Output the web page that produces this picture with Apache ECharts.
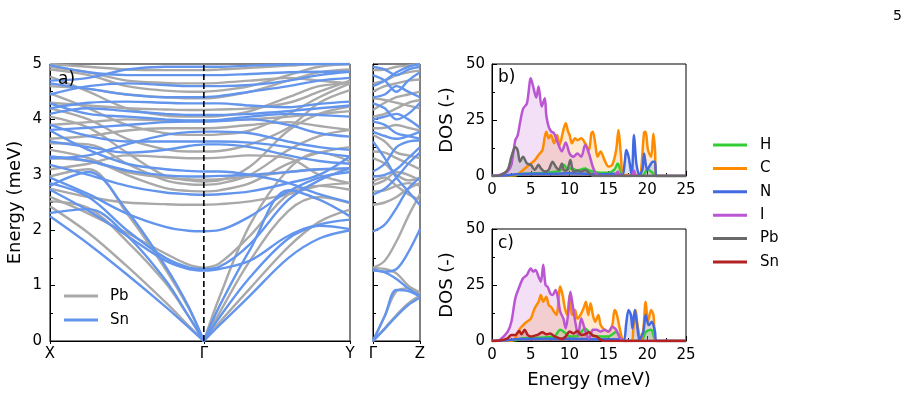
<!DOCTYPE html>
<html><head><meta charset="utf-8">
<script src="https://cdn.jsdelivr.net/npm/echarts@6/dist/echarts.min.js"></script>
<style>html,body{margin:0;padding:0;background:#fff}#c{width:910px;height:398px}</style>
</head><body><div id="c"></div>
<script>
// ---------- Band structure data ----------
const kPath = [0, 0.25, 0.5, 0.75, 0.9, 1.0, 1.1, 1.3, 1.55, 1.75, 1.95]; // X ... Γ(1.0) ... Y
const kPathLabels = [[0, 'X'], [1, 'Γ'], [1.95, 'Y']];
const kGZ = [0, 0.25, 0.5, 0.75, 1.0];
const kGZLabels = [[0, 'Γ'], [1, 'Z']];
const gammaK = 1.0;

const bandsPb = [
  [2.43, 1.95, 1.35, 0.7, 0.28, 0, 0.33, 0.95, 1.7, 2.15, 2.37],
  [2.52, 2.4, 1.8, 1.05, 0.45, 0, 0.5, 1.45, 2.35, 2.6, 2.49],
  [2.97, 3.1, 2.3, 1.3, 0.6, 0, 0.78, 2.1, 3.1, 3.4, 3.24],
  [2.6, 2.3, 1.95, 1.58, 1.38, 1.32, 1.4, 1.9, 2.65, 2.8, 2.73],
  [2.75, 2.6, 2.5, 2.47, 2.46, 2.46, 2.47, 2.52, 2.65, 2.8, 2.85],
  [3.45, 3.3, 3.0, 2.76, 2.71, 2.70, 2.72, 2.85, 3.2, 3.4, 3.5],
  [3.57, 3.55, 3.2, 2.9, 2.83, 2.82, 2.84, 3.0, 3.45, 3.7, 3.81],
  [4.05, 3.85, 3.4, 2.98, 2.9, 2.88, 2.9, 3.15, 3.8, 4.1, 4.23],
  [3.1, 3.2, 3.35, 3.32, 3.3, 3.30, 3.31, 3.35, 3.3, 3.0, 2.85],
  [4.2, 4.0, 3.65, 3.46, 3.42, 3.42, 3.43, 3.55, 3.85, 4.3, 4.53],
  [4.47, 4.2, 3.9, 3.75, 3.72, 3.72, 3.73, 3.8, 4.1, 4.4, 4.65],
  [3.65, 3.7, 3.8, 3.84, 3.84, 3.84, 3.85, 3.9, 3.95, 3.88, 3.81],
  [4.77, 4.5, 4.2, 4.07, 4.05, 4.05, 4.06, 4.15, 4.4, 4.6, 4.65],
  [4.3, 4.25, 4.2, 4.18, 4.17, 4.17, 4.18, 4.2, 4.3, 4.5, 4.7],
  [4.6, 4.55, 4.45, 4.4, 4.38, 4.38, 4.4, 4.5, 4.7, 4.85, 4.9],
  [4.9, 4.8, 4.6, 4.52, 4.5, 4.5, 4.52, 4.6, 4.8, 4.95, 5.0],
  [4.95, 4.85, 4.7, 4.66, 4.65, 4.65, 4.66, 4.7, 4.75, 4.7, 4.65],
  [5.0, 4.95, 4.9, 4.89, 4.89, 4.89, 4.9, 4.93, 4.97, 5.0, 5.0],
  [3.3, 3.25, 3.05, 2.95, 2.92, 2.91, 2.92, 2.97, 3.05, 3.1, 3.1],
  [3.9, 3.95, 4.0, 3.98, 3.97, 3.97, 3.98, 4.0, 4.05, 4.1, 4.15]
];
const bandsSn = [
  [2.25, 1.75, 1.2, 0.62, 0.25, 0, 0.28, 0.82, 1.5, 1.85, 2.0],
  [2.31, 2.38, 1.9, 1.1, 0.45, 0, 0.42, 1.15, 1.85, 2.1, 2.19],
  [2.8, 3.05, 2.35, 1.35, 0.62, 0, 0.62, 1.65, 2.72, 2.55, 2.25],
  [2.73, 2.35, 1.9, 1.45, 1.3, 1.27, 1.3, 1.45, 1.9, 2.08, 2.02],
  [2.85, 2.6, 2.0, 1.5, 1.33, 1.30, 1.34, 1.75, 2.55, 2.9, 3.12],
  [2.95, 2.65, 2.3, 2.06, 1.99, 1.98, 2.0, 2.25, 2.7, 2.95, 3.05],
  [3.18, 3.0, 2.8, 2.68, 2.65, 2.64, 2.65, 2.7, 2.85, 3.0, 3.33],
  [3.33, 3.25, 3.08, 2.99, 2.97, 2.97, 2.98, 3.0, 3.05, 3.1, 3.12],
  [3.8, 3.45, 3.2, 3.1, 3.07, 3.06, 3.06, 3.0, 2.85, 2.65, 2.5],
  [3.9, 3.7, 3.6, 3.6, 3.6, 3.6, 3.6, 3.58, 3.5, 3.4, 3.33],
  [3.3, 3.35, 3.55, 3.72, 3.77, 3.78, 3.78, 3.75, 3.6, 3.5, 3.45],
  [3.81, 3.85, 3.9, 3.95, 3.96, 3.96, 3.97, 4.0, 3.9, 3.75, 3.69],
  [4.29, 4.1, 4.05, 4.0, 3.98, 3.98, 3.99, 4.05, 4.1, 4.08, 4.05],
  [4.2, 4.3, 4.32, 4.3, 4.29, 4.29, 4.29, 4.25, 4.22, 4.28, 4.32],
  [4.65, 4.55, 4.45, 4.4, 4.4, 4.4, 4.42, 4.5, 4.6, 4.7, 4.75],
  [4.98, 4.85, 4.8, 4.8, 4.8, 4.8, 4.8, 4.82, 4.85, 4.86, 4.86],
  [4.7, 4.75, 4.9, 4.95, 4.95, 4.95, 4.95, 4.97, 4.99, 5.0, 5.0],
  [3.6, 3.5, 3.4, 3.45, 3.52, 3.55, 3.55, 3.5, 3.35, 3.25, 3.2],
  [4.45, 4.6, 4.65, 4.62, 4.6, 4.6, 4.6, 4.62, 4.7, 4.8, 4.86],
  [4.1, 4.2, 4.15, 4.1, 4.08, 4.08, 4.08, 4.1, 4.15, 4.2, 4.25]
];
const bandsGZPb = [
  [0, 0.23, 0.47, 0.68, 0.82],
  [0, 0.45, 0.9, 0.95, 0.85],
  [1.32, 1.3, 1.22, 1.0, 0.88],
  [1.32, 1.45, 1.8, 2.25, 2.65],
  [2.46, 2.5, 2.6, 2.75, 2.85],
  [2.7, 2.72, 2.8, 2.85, 2.8],
  [2.82, 2.9, 3.05, 3.0, 2.9],
  [2.88, 2.95, 2.8, 2.65, 2.55],
  [3.3, 3.2, 3.0, 2.9, 2.95],
  [3.42, 3.4, 3.3, 3.2, 3.1],
  [3.72, 3.6, 3.4, 3.35, 3.3],
  [3.84, 3.85, 3.9, 3.85, 3.8],
  [4.05, 4.1, 4.2, 4.3, 4.35],
  [4.17, 4.3, 4.4, 4.45, 4.5],
  [4.38, 4.35, 4.3, 4.25, 4.2],
  [4.5, 4.6, 4.65, 4.7, 4.72],
  [4.65, 4.7, 4.8, 4.85, 4.88],
  [4.89, 4.9, 4.95, 4.97, 5.0]
];
const bandsGZSn = [
  [0, 0.22, 0.45, 0.65, 0.78],
  [0, 0.45, 0.92, 0.9, 0.8],
  [1.27, 1.24, 1.12, 0.95, 0.82],
  [1.3, 1.25, 1.3, 1.6, 2.02],
  [1.98, 2.1, 2.4, 2.75, 2.95],
  [2.64, 2.75, 2.95, 3.2, 3.4],
  [2.97, 3.0, 3.1, 3.3, 3.5],
  [3.6, 3.3, 2.95, 2.7, 2.45],
  [3.06, 3.2, 3.5, 3.6, 3.62],
  [3.78, 3.7, 3.65, 3.7, 3.78],
  [3.96, 3.9, 3.75, 3.7, 3.65],
  [4.0, 4.05, 4.1, 4.0, 3.85],
  [4.29, 4.2, 4.0, 4.1, 4.3],
  [4.4, 4.45, 4.6, 4.5, 4.4],
  [4.8, 4.7, 4.5, 4.7, 4.85],
  [4.95, 4.9, 4.8, 4.9, 4.95],
  [4.6, 4.7, 4.85, 4.95, 5.0]
];

// ---------- DOS data [energy meV, DOS] ----------
const dosB_H = [[0,0],[3,0.3],[4,1],[6,1.2],[7,1.5],[8,1.8],[8.8,2.5],[9.3,5],[9.7,3],[10.2,3.5],[11,2.5],[12,3.4],[12.5,2.5],[13,2],[14,1.5],[15,1.5],[15.8,3],[16.2,5.6],[16.6,2],[17,0],[19.5,0.5],[20,3],[20.5,2],[21.2,0],[25,0]];
const dosB_C = [[0,0],[3,0.3],[4,2.7],[5,5.6],[5.5,7],[6,9.4],[6.5,11.6],[6.8,17.5],[7,19.8],[7.3,16.8],[7.6,18.3],[8,14.6],[8.4,18.3],[8.7,13.8],[9.2,20.5],[9.5,23.5],[9.8,19.8],[10,18.3],[10.3,14.6],[10.7,16.8],[11,16],[11.5,16.8],[12,14.6],[12.5,11.6],[12.8,19],[13,19.8],[13.3,14.6],[13.6,8.6],[14,10.9],[14.5,7.1],[15,4.2],[15.5,5],[16,11.6],[16.3,20.5],[16.6,10],[17,0.5],[19,0.5],[19.2,2],[19.6,19.5],[19.8,19.8],[20.1,11.6],[20.5,8.6],[20.8,19],[21,12],[21.2,0],[25,0]];
const dosB_N = [[0,0],[2,0.3],[3,0.8],[5,1],[8,1],[10,1.2],[12,1],[14,0.8],[16,1],[16.8,0.5],[17.1,6],[17.3,11.6],[17.6,8.6],[18,0.5],[18.3,18.3],[18.6,5.6],[19,0.3],[19.4,3],[19.6,10],[20,2.7],[20.4,5],[20.7,6.4],[21,6.4],[21.2,0],[25,0]];
const dosB_I = [[0,0],[1,0.5],[2,2],[2.5,5],[3,16],[3.3,18],[3.6,23.5],[4,30],[4.5,32.4],[5,43.6],[5.3,40],[5.7,35],[6,40],[6.4,31],[6.8,34.7],[7,27],[7.3,22],[7.6,20],[8,19],[8.5,14.6],[9,11],[9.5,15],[10,10],[10.5,8.6],[11,10],[11.5,8.6],[12,13.8],[12.5,10],[13,4],[13.5,0.5],[14,0],[15.8,0],[16.2,2],[16.6,0],[18,0],[18.3,2.5],[18.6,0],[25,0]];
const dosB_Pb = [[0,0],[1,0.3],[2,2.7],[2.5,8.6],[3,13],[3.3,11.6],[3.6,6.4],[4,8.6],[4.5,5.6],[5,5],[5.5,2.7],[6,5],[6.3,3.4],[6.8,2],[7.3,2.7],[7.8,6.4],[8.2,4.2],[8.6,2.7],[9,5.6],[9.3,2.4],[9.7,2.7],[10.1,7.1],[10.5,2],[11,2.4],[11.5,2],[12,2.7],[12.5,1.5],[13,0],[25,0]];

const dosC_H = [[0,0],[3,0.3],[4,1.2],[6,1.5],[8,2],[8.8,5],[9.3,4],[10,2],[11,2.2],[12,5.6],[12.5,4],[13,2.5],[14,2],[15,2],[16,4],[16.5,2],[17,0],[19.3,0.5],[19.8,4],[20.5,5],[21.2,0],[25,0]];
const dosC_C = [[0,0],[2.5,0],[3,1.2],[3.5,5],[4,7.1],[4.5,8.6],[5,10],[5.5,14.6],[6,17.5],[6.3,20.5],[6.6,17.5],[7,19.8],[7.3,16],[7.6,15.3],[8,13],[8.3,11.6],[8.8,24.3],[9.1,20.5],[9.4,14.6],[9.7,11.6],[10,20.5],[10.3,11.6],[10.7,13.8],[11,10],[11.4,11.6],[11.8,14.6],[12.1,17.5],[12.4,11.6],[12.7,16.8],[13,11.6],[13.3,8.6],[13.7,11.6],[14,7.1],[14.5,5],[15,4.2],[15.5,7.1],[15.8,13.8],[16.1,11.6],[16.5,5],[17,0],[18,0],[18.2,5],[18.5,13.8],[18.8,6],[19.2,0.5],[19.5,5],[19.8,17.5],[20.1,8.6],[20.5,13.8],[20.8,11.6],[21.2,0],[25,0]];
const dosC_N = [[0,0],[2,0.3],[3,0.8],[6,1],[10,1],[14,0.8],[16.5,0.8],[17,0.3],[17.3,8],[17.6,13.8],[17.9,11.6],[18.1,5.6],[18.4,13.8],[18.7,7.1],[19,0.5],[19.5,4.2],[19.8,11.6],[20.2,7.1],[20.6,8.6],[21,4.2],[21.2,0],[25,0]];
const dosC_I = [[0,0],[0.5,0],[1,0.5],[2,4],[2.5,8.6],[3,19],[3.5,24],[4,28],[4.5,29.5],[5,32.4],[5.3,31],[5.6,31.7],[6,28.7],[6.3,26.5],[6.6,34],[6.9,25],[7.2,24],[7.5,21.3],[7.8,20.5],[8.2,22.8],[8.5,19],[8.8,13],[9.2,10],[9.5,5.6],[9.8,11.6],[10.1,22],[10.4,16],[10.8,7.1],[11.1,2.7],[11.5,10],[11.8,7.1],[12.2,2.7],[12.5,1.2],[13,5],[13.5,5],[14,4.2],[14.5,5],[15,4.2],[15.5,6.4],[16,5],[16.5,1.2],[17,0],[25,0]];
const dosC_Sn = [[0,0],[1,0.2],[2,1.2],[2.5,2.7],[3,2.7],[3.5,4.5],[3.8,3],[4.2,5],[4.6,2.7],[5,2],[5.5,2.4],[6,3],[6.5,3.9],[7,3],[7.5,3.4],[8,2.2],[8.5,1.5],[9,0.9],[9.5,2],[10,4.2],[10.5,3.4],[11,4.5],[11.5,2.7],[12,3],[12.5,3.9],[13,2.4],[13.5,2],[14,0.5],[14.5,0],[25,0]];

const energyTicksBand = [0, 5, 1];   // min, max, interval
const dosTicksY = [0, 50, 25];
const dosTicksX = [0, 25, 5];

const elemNames = ['H', 'C', 'N', 'I', 'Pb', 'Sn'];
const elemColors = {H: '#32CD32', C: '#FF8C00', N: '#4169E1', I: '#BA55D3', Pb: '#696969', Sn: '#B22222'};
const bandColors = {Pb: '#A9A9A9', Sn: '#6495ED'};

// ---------- build ----------
const FONT = 'DejaVu Sans';
const series = [];
function addLine(name, color, xi, data, width) {
  series.push({
    type: 'line', name: name, xAxisIndex: xi, yAxisIndex: xi, data: data,
    smooth: 0.35, symbol: 'none', silent: true,
    lineStyle: {color: color, width: width}, itemStyle: {color: color}
  });
}
function addPath(bands, name, color) {
  const g = kPath.indexOf(gammaK);
  bands.forEach(b => {
    addLine(name, color, 0, kPath.slice(0, g + 1).map((k, i) => [k, b[i]]), 2.4);
    addLine(name, color, 0, kPath.slice(g).map((k, i) => [k, b[g + i]]), 2.4);
  });
}
addPath(bandsPb, 'Pb ', bandColors.Pb);
addPath(bandsSn, 'Sn ', bandColors.Sn);
bandsGZPb.forEach(b => addLine('Pb ', bandColors.Pb, 1, kGZ.map((k, i) => [k, b[i]]), 2.4));
bandsGZSn.forEach(b => addLine('Sn ', bandColors.Sn, 1, kGZ.map((k, i) => [k, b[i]]), 2.4));
series.push({type: 'line', xAxisIndex: 0, yAxisIndex: 0, symbol: 'none', silent: true,
  data: [[gammaK, energyTicksBand[0]], [gammaK, energyTicksBand[1]]],
  lineStyle: {color: '#000', width: 1.6, type: [6, 3]}, z: 5});

function addDos(name, xi, data) {
  const c = elemColors[name];
  series.push({
    type: 'line', name: name, xAxisIndex: xi, yAxisIndex: xi, data: data,
    smooth: 0.3, symbol: 'none', silent: true,
    lineStyle: {color: c, width: 2.5}, itemStyle: {color: c},
    areaStyle: {color: c, opacity: 0.18}
  });
}
addDos('H', 2, dosB_H); addDos('C', 2, dosB_C); addDos('N', 2, dosB_N); addDos('I', 2, dosB_I); addDos('Pb', 2, dosB_Pb);
addDos('H', 3, dosC_H); addDos('C', 3, dosC_C); addDos('N', 3, dosC_N); addDos('I', 3, dosC_I); addDos('Sn', 3, dosC_Sn);

const txt = {color: '#000', fontFamily: FONT, fontSize: 15};
const axLine = {show: true, onZero: false, lineStyle: {color: '#000', width: 1}};
function pathX(gi, max, labels) {
  const vals = labels.map(l => l[0]);
  return {gridIndex: gi, type: 'value', min: 0, max: max, axisLine: axLine,
    splitLine: {show: false},
    axisTick: {show: true, inside: false, length: 3, customValues: vals, lineStyle: {color: '#000'}},
    axisLabel: Object.assign({}, txt, {customValues: vals, margin: 6,
      formatter: v => { const f = labels.find(l => Math.abs(l[0] - v) < 1e-6); return f ? f[1] : ''; }})};
}
function bandY(gi, showLabels) {
  return {gridIndex: gi, type: 'value', min: energyTicksBand[0], max: energyTicksBand[1], interval: energyTicksBand[2],
    axisLine: axLine, splitLine: {show: false},
    axisTick: {show: true, inside: true, length: 5, lineStyle: {color: '#000'}},
    minorTick: {show: true, splitNumber: 2, length: 3, lineStyle: {color: '#000'}},
    axisLabel: Object.assign({}, txt, {show: showLabels, margin: 8}),
    name: showLabels ? 'Energy (meV)' : '', nameLocation: 'middle', nameGap: 26,
    nameTextStyle: {color: '#000', fontFamily: FONT, fontSize: 18}};
}
function dosX(gi, withName) {
  return {gridIndex: gi, type: 'value', min: dosTicksX[0], max: dosTicksX[1], interval: dosTicksX[2],
    axisLine: axLine, splitLine: {show: false},
    axisTick: {show: true, inside: true, length: 5, lineStyle: {color: '#000'}},
    minorTick: {show: true, splitNumber: 2, length: 3, lineStyle: {color: '#000'}},
    axisLabel: Object.assign({}, txt, {margin: 7}),
    name: withName ? 'Energy (meV)' : '', nameLocation: 'middle', nameGap: 30,
    nameTextStyle: {color: '#000', fontFamily: FONT, fontSize: 18}};
}
function dosY(gi) {
  return {gridIndex: gi, type: 'value', min: dosTicksY[0], max: dosTicksY[1], interval: dosTicksY[2],
    axisLine: axLine, splitLine: {show: false},
    axisTick: {show: true, inside: true, length: 5, lineStyle: {color: '#000'}},
    minorTick: {show: true, splitNumber: 2, length: 3, lineStyle: {color: '#000'}},
    axisLabel: Object.assign({}, txt, {margin: 7}),
    name: 'DOS (-)', nameLocation: 'middle', nameGap: 36,
    nameTextStyle: {color: '#000', fontFamily: FONT, fontSize: 18}};
}
const gridBox = {show: true, borderColor: '#000', borderWidth: 1, backgroundColor: 'transparent'};

const option = {
  animation: false,
  backgroundColor: '#fff',
  textStyle: {fontFamily: FONT},
  grid: [
    Object.assign({left: 50, top: 64, width: 300, height: 277}, gridBox),
    Object.assign({left: 373, top: 64, width: 47, height: 277}, gridBox),
    Object.assign({left: 492, top: 64, width: 194, height: 112}, gridBox),
    Object.assign({left: 492, top: 229, width: 194, height: 112}, gridBox)
  ],
  xAxis: [pathX(0, kPath[kPath.length - 1], kPathLabels), pathX(1, 1, kGZLabels), dosX(2, false), dosX(3, true)],
  yAxis: [bandY(0, true), bandY(1, false), dosY(2), dosY(3)],
  legend: [
    {data: ['Pb ', 'Sn '], orient: 'vertical', left: 64, top: 287, padding: 0, icon: 'rect', itemWidth: 34, itemHeight: 3,
      itemGap: 6, selectedMode: false, formatter: n => n.trim(),
      textStyle: {color: '#000', fontFamily: FONT, fontSize: 15, lineHeight: 18, padding: [0, 0, 0, 7]}},
    {data: elemNames, orient: 'vertical', left: 713, top: 136, padding: 0, icon: 'rect', itemWidth: 34, itemHeight: 3,
      itemGap: 5.4, selectedMode: false,
      textStyle: {color: '#000', fontFamily: FONT, fontSize: 15, lineHeight: 18, padding: [0, 0, 0, 8]}}
  ],
  graphic: [
    {type: 'text', z: 100, left: 58, top: 71, style: {text: 'a)', fill: '#000', font: '17px "DejaVu Sans"'}},
    {type: 'text', z: 100, left: 498, top: 69, style: {text: 'b)', fill: '#000', font: '17px "DejaVu Sans"'}},
    {type: 'text', z: 100, left: 498, top: 235, style: {text: 'c)', fill: '#000', font: '17px "DejaVu Sans"'}},
    {type: 'text', z: 100, left: 893, top: 9, style: {text: '5', fill: '#000', font: '14px "DejaVu Sans"'}}
  ],
  series: series
};
const chart = echarts.init(document.getElementById('c'), null, {renderer: 'canvas'});
chart.setOption(option);
</script>
</body></html>
